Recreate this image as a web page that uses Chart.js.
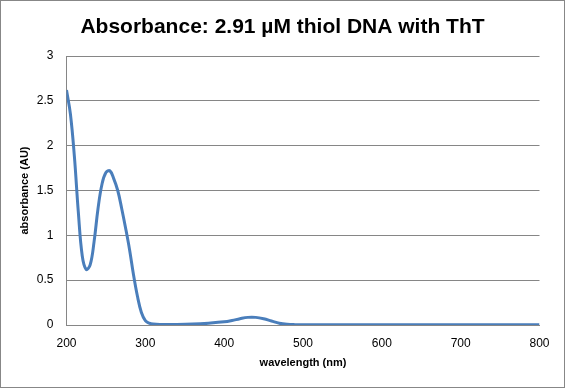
<!DOCTYPE html>
<html>
<head>
<meta charset="utf-8">
<script src="https://cdn.jsdelivr.net/npm/chart.js@4/dist/chart.umd.min.js"></script>
<style>
  html, body { margin: 0; padding: 0; background: #fff; }
  #wrap { width: 565px; height: 388px; box-sizing: border-box; border: 1px solid #878787; background: #fff; }
  canvas { display: block; }
</style>
</head>
<body>
<div id="wrap"><canvas id="absChart" width="563" height="386"></canvas></div>
<script>
// wavelength (nm) and absorbance (AU)
const wavelengths = [200, 205, 210, 215, 220, 225, 230, 235, 240, 245, 250, 255, 260, 265, 270, 275, 280, 285, 290, 295, 300, 305, 310, 320, 340, 360, 380, 400, 410, 420, 430, 440, 450, 460, 470, 480, 490, 500, 550, 600, 650, 700, 750, 800];
const absorbance  = [2.62, 2.35, 1.88, 1.26, 0.77, 0.62, 0.67, 0.93, 1.30, 1.57, 1.70, 1.72, 1.63, 1.50, 1.30, 1.08, 0.84, 0.56, 0.32, 0.14, 0.05, 0.02, 0.01, 0.006, 0.006, 0.01, 0.02, 0.035, 0.05, 0.07, 0.085, 0.085, 0.07, 0.045, 0.02, 0.008, 0.004, 0.003, 0.002, 0.002, 0.002, 0.002, 0.002, 0.002];

const titleText = "Absorbance: 2.91 µM thiol DNA with ThT";
const xTitle = "wavelength (nm)";
const yTitle = "absorbance (AU)";

const gridGray = "#868686";
const fontFamily = "'Liberation Sans', Arial, sans-serif";

const points = wavelengths.map((w, i) => ({ x: w, y: absorbance[i] }));

new Chart(document.getElementById("absChart").getContext("2d"), {
    type: "line",
    data: {
        datasets: [{
            data: points,
            borderColor: "#4a7ebb",
            borderWidth: 3,
            pointRadius: 0,
            fill: false,
            tension: 0.4
        }]
    },
    options: {
        responsive: false,
        animation: false,
        events: [],
        layout: { padding: 0 },
        plugins: {
            legend: { display: false },
            tooltip: { enabled: false },
            title: {
                display: true,
                text: titleText,
                color: "#000",
                font: { family: fontFamily, size: 21, weight: "bold", lineHeight: 1.2 },
                padding: { top: 14, bottom: 15.8 }
            }
        },
        scales: {
            x: {
                type: "linear",
                min: 200,
                max: 800,
                afterFit: (s) => { s.height = 62; },
                ticks: {
                    stepSize: 100,
                    color: "#000",
                    padding: 11,
                    maxRotation: 0,
                    font: { family: fontFamily, size: 12 }
                },
                grid: { display: false, drawTicks: false },
                border: { display: true, color: gridGray, width: 1 },
                title: {
                    display: true,
                    text: xTitle,
                    color: "#000",
                    font: { family: fontFamily, size: 11, weight: "bold", lineHeight: 1.2 },
                    padding: { top: 0, bottom: 17.4 }
                }
            },
            y: {
                min: 0,
                max: 3,
                afterFit: (s) => { s.width = 65.5; },
                ticks: {
                    stepSize: 0.5,
                    color: "#000",
                    padding: 13,
                    font: { family: fontFamily, size: 12 },
                    callback: (v) => String(v)
                },
                grid: { color: gridGray, lineWidth: 1, drawTicks: false },
                border: { display: true, color: gridGray, width: 1 },
                title: {
                    display: true,
                    text: yTitle,
                    color: "#000",
                    font: { family: fontFamily, size: 11, weight: "bold", lineHeight: 1.2 },
                    padding: { top: 17.4, bottom: 0 }
                }
            },
            // empty spacer on the right so the title stays centred on the whole chart
            spacer: {
                position: "right",
                min: 0,
                max: 3,
                afterFit: (s) => { s.width = 24.5; },
                ticks: { display: false },
                grid: { display: false, drawTicks: false },
                border: { display: false }
            }
        }
    }
});
</script>
</body>
</html>
